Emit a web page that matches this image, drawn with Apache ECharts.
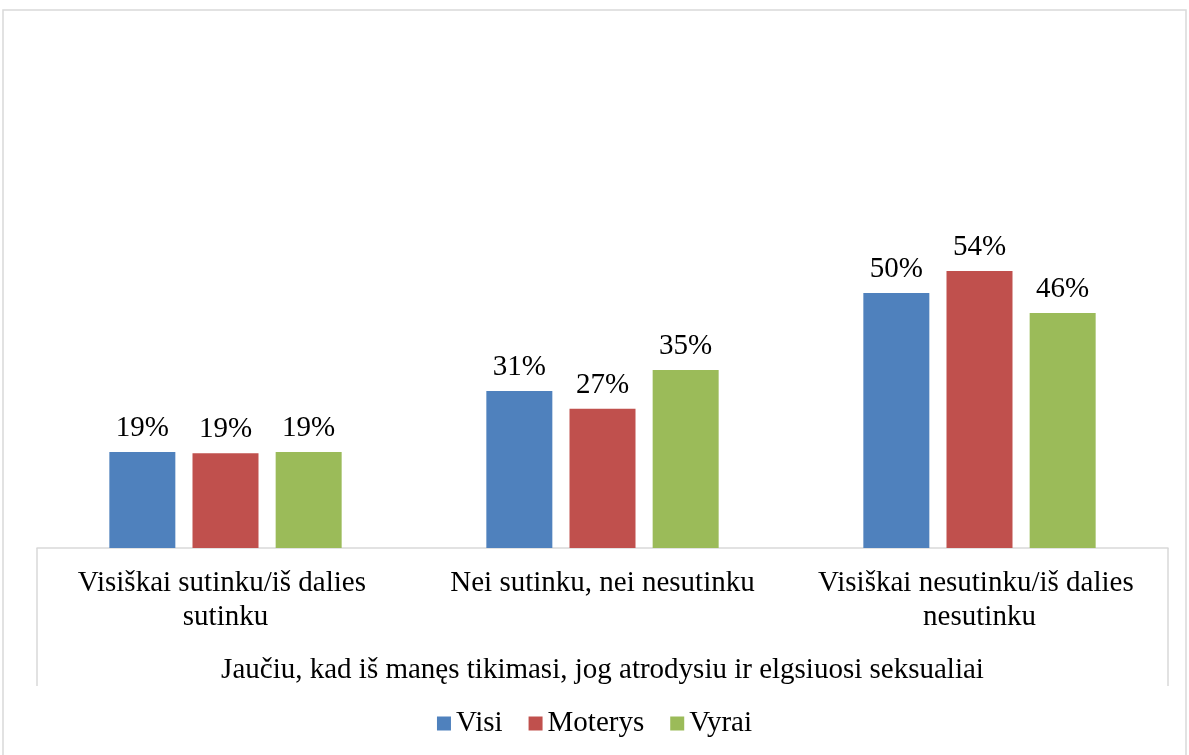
<!DOCTYPE html>
<html>
<head>
<meta charset="utf-8">
<script src="https://cdn.jsdelivr.net/npm/echarts@6/dist/echarts.min.js"></script>
<style>
  html, body { margin: 0; padding: 0; background: #fff; }
  #chart { width: 1189px; height: 755px; }
</style>
</head>
<body>
<div id="chart"></div>
<script>
// kategorijos ir reikšmės (%)
const categories = ['Visiškai sutinku/iš dalies sutinku', 'Nei sutinku, nei nesutinku', 'Visiškai nesutinku/iš dalies nesutinku']
const groupLabel = ['Jaučiu, kad iš manęs tikimasi, jog atrodysiu ir elgsiuosi seksualiai']
const visi = [18.8, 30.8, 50.0]
const moterys = [18.6, 27.3, 54.3]
const vyrai = [18.8, 34.9, 46.1]

const font = 'Liberation Serif, Times New Roman, serif'
const chart = echarts.init(document.getElementById('chart'))

function barSeries (name, data, color) {
  return {
    name: name,
    type: 'bar',
    data: data,
    barWidth: 66,
    barGap: '26%',
    itemStyle: { color: color },
    label: {
      show: true,
      position: 'top',
      distance: 9,
      color: '#000',
      fontFamily: font,
      fontSize: 29,
      formatter: p => Math.round(p.value) + '%'
    }
  }
}

chart.setOption({
  animation: false,
  graphic: [{
    type: 'rect',
    shape: { x: 3, y: 10, width: 1183, height: 770 },
    style: { fill: 'none', stroke: '#d9d9d9', lineWidth: 1.5 },
    silent: true
  }],
  legend: {
    bottom: 12,
    left: 'center',
    itemWidth: 14,
    itemHeight: 14,
    itemGap: 26,
    icon: 'rect',
    textStyle: { fontFamily: font, fontSize: 29, color: '#000' },
    data: ['Visi', 'Moterys', 'Vyrai']
  },
  grid: { left: 37, right: 21, top: 242, height: 306 },
  xAxis: [{
    type: 'category',
    data: categories,
    axisLine: { lineStyle: { color: '#d9d9d9', width: 1.5 } },
    axisTick: { show: false },
    axisLabel: {
      color: '#000',
      fontFamily: font,
      fontSize: 29,
      lineHeight: 34,
      margin: 18,
      width: 370,
      overflow: 'break',
      interval: 0
    }
  }, {
    type: 'category',
    position: 'bottom',
    data: groupLabel,
    axisLine: { show: false },
    axisTick: { show: true, length: 138, lineStyle: { color: '#d9d9d9', width: 1.5 } },
    axisLabel: {
      color: '#000',
      fontFamily: font,
      fontSize: 29,
      lineHeight: 34,
      margin: 105
    }
  }],
  yAxis: { type: 'value', min: 0, max: 60, show: false, splitLine: { show: false } },
  series: [
    barSeries('Visi', visi, '#4F81BD'),
    barSeries('Moterys', moterys, '#C0504D'),
    barSeries('Vyrai', vyrai, '#9BBB59')
  ]
})
</script>
</body>
</html>
